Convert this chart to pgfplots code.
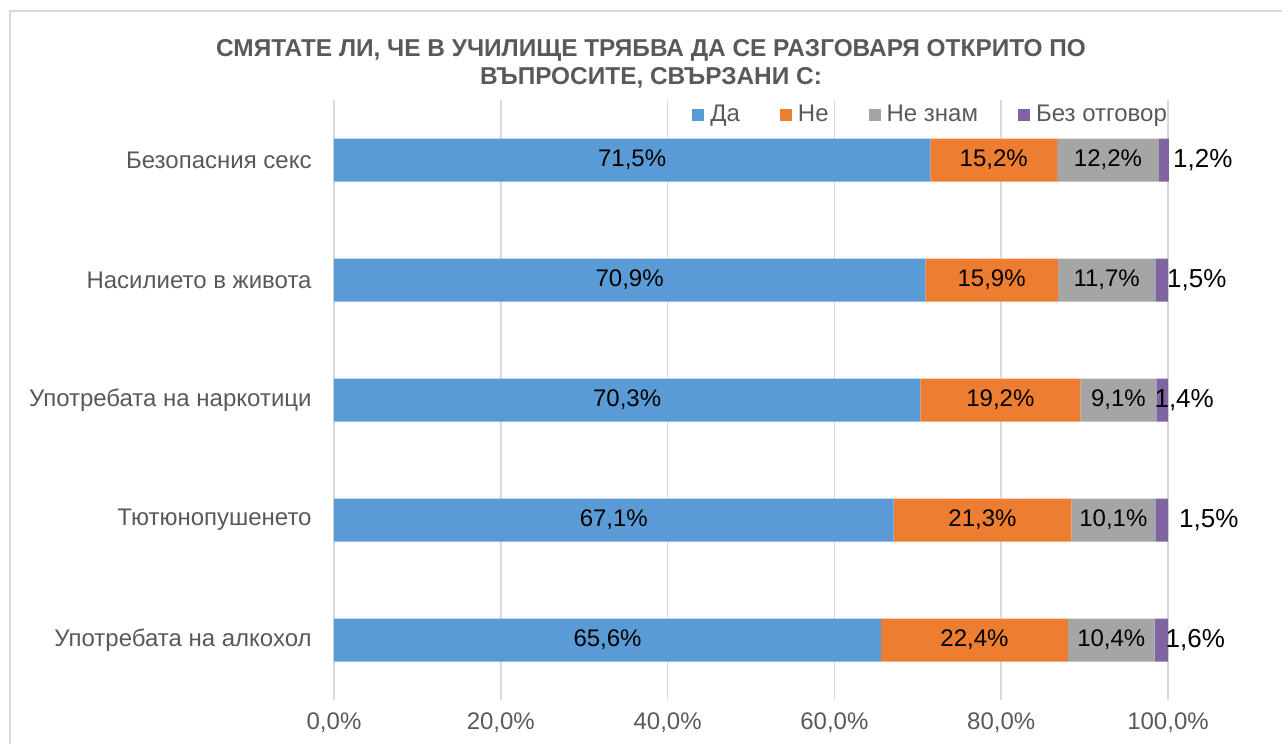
\documentclass[border=0pt]{standalone}
\usepackage{fontspec}
\setmainfont{Liberation Sans}
\usepackage{pgfplots}
\usepackage{pgfplotstable}
\pgfplotsset{compat=1.18}

\definecolor{cblue}{HTML}{5B9BD5}
\definecolor{corange}{HTML}{ED7D31}
\definecolor{cgray}{HTML}{A5A5A5}
\definecolor{cpurple}{HTML}{8064A2}
\definecolor{ctext}{HTML}{595959}
\definecolor{cgrid}{HTML}{D9D9D9}

% y: category position, dx: shift of the outside label (pt)
\pgfplotstableread{
y da ne nz bo dx
0 71.5 15.2 12.2 1.2 4.5
1 70.9 15.9 11.7 1.5 2.5
2 70.3 19.2 9.1 1.4 -4
3 67.1 21.3 10.1 1.5 8.5
4 65.6 22.4 10.4 1.6 2
}\data

\pgfplotsset{
  pctlabel/.style={
    nodes near coords={\pgfmathprintnumber[fixed,fixed zerofill,precision=1,use comma]{\pgfplotspointmeta}\%},
    point meta=rawx,
  },
  inlab/.style={
    pctlabel,
    every node near coord/.append style={anchor=center,
      font=\fontsize{12}{14}\selectfont, text=black},
  },
  outlab/.style={
    pctlabel,
    visualization depends on={\thisrow{dx} \as \myshift},
    every node near coord/.append style={anchor=west, inner sep=0pt,
      xshift=\myshift*1pt, font=\fontsize{13}{15}\selectfont, text=black},
  },
}

\begin{document}
\begin{tikzpicture}
\useasboundingbox (0,0) rectangle (641pt,372pt);
\draw[cgrid, line width=0.75pt] (5pt,0) -- (5pt,366.5pt) -- (645pt,366.5pt);

\begin{axis}[
  at={(167pt,22pt)}, anchor=south west,
  scale only axis, width=417pt, height=300pt,
  xbar stacked, bar width=21.5pt,
  legend image code/.code={\fill[#1] (0pt,-3pt) rectangle (6pt,3pt);},
  xmin=0, xmax=100, ymin=-0.5, ymax=4.5, y dir=reverse,
  clip=false,
  axis line style={draw=none},
  major tick length=0pt,
  xtick={0,20,...,100},
  xmajorgrids, grid style={cgrid, line width=0.75pt},
  xticklabel={\pgfmathprintnumber[fixed,fixed zerofill,precision=1,use comma]{\tick}\%},
  xticklabel style={font=\fontsize{12}{14}\selectfont, text=ctext, yshift=-3pt},
  ytick={0,...,4},
  yticklabels={Безопасния секс,Насилието в живота,Употребата на наркотици,Тютюнопушенето,Употребата на алкохол},
  yticklabel style={font=\fontsize{12}{14}\selectfont, text=ctext, inner sep=0pt, xshift=-11pt},
  /pgf/number format/assume math mode=true,
  legend columns=-1,
  legend style={at={(0.422,0.975)}, anchor=west, draw=none, fill=none,
    font=\fontsize{12}{14}\selectfont, text=ctext,
    nodes={inner xsep=3pt},
    /tikz/every even column/.append style={column sep=17pt}},
]
\addplot[fill=cblue, draw=none, inlab] table[x=da, y=y] {\data};
\addplot[fill=corange, draw=none, inlab] table[x=ne, y=y] {\data};
\addplot[fill=cgray, draw=none, inlab] table[x=nz, y=y] {\data};
\addplot[fill=cpurple, draw=none, outlab] table[x=bo, y=y] {\data};
\legend{Да,Не,Не знам,Без отговор}
\end{axis}

\node[font=\bfseries\fontsize{12.2}{14}\selectfont, text=ctext, align=center]
  at (325.5pt,340pt) {СМЯТАТЕ ЛИ, ЧЕ В УЧИЛИЩЕ ТРЯБВА ДА СЕ РАЗГОВАРЯ ОТКРИТО ПО\\ВЪПРОСИТЕ, СВЪРЗАНИ С:};
\end{tikzpicture}
\end{document}
